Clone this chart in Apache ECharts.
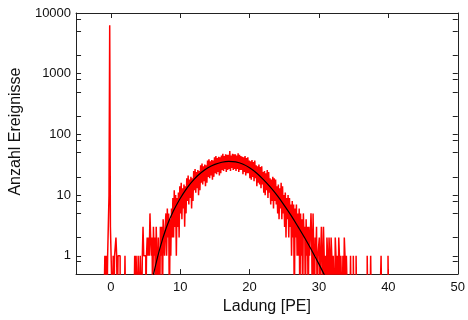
<!DOCTYPE html>
<html><head><meta charset="utf-8">
<script src="https://cdn.jsdelivr.net/npm/echarts@6/dist/echarts.min.js"></script>
<style>html,body{margin:0;padding:0;background:#fff}#c{width:468px;height:320px}</style>
</head><body><div id="c"></div>
<script>
// ---- data ----
const xAxisTitle = 'Ladung [PE]';
const yAxisTitle = 'Anzahl Ereignisse';
const xTickValues = [0, 10, 20, 30, 40, 50];
const yLabelValues = [1, 10, 100, 1000, 10000];
const yTickValues = [0.8, 1, 2, 5, 8, 10, 20, 50, 80, 100, 200, 500, 800, 1000, 2000, 5000, 8000, 10000];

// histogram: bin centres start at -1.0, width 0.1 PE
const binCenterStart = -1.0;
const binWidth = 0.1;
const histCounts = [
  0,0,1,0,1,0,1,1,10,6300,      // -1.0 .. -0.1
  3,1,1,0,1,0,1,1,2,1,          // 0.0 .. 0.9
  0,1,1,1,0,0,0,0,0,0,          // 1
  0,1,0,0,0,0,0,0,0,0,          // 2
  0,0,0,0,0,1,0,1,1,0,          // 3
  1,1,0,1,1,0,1,3,1,1,          // 4
  1,0,1,2,1,2,1,5,2,1,          // 5
  2,0,3,1,2,0,3,1,0,2,          // 6
  2,0,3,1,3,0,4,2,1,3,          // 7
  5,1,6,2,5,0,4,1,6,2,          // 8
  9,2,12,3,10,1,9,3,11,2,       // 9
  14,5,16,4,13,6,15,3,14,5,     // 10
  19,8,21,7,18,9,20,6,19,8,     // 11
  25,12,27,11,24,13,26,10,25,12,// 12
  31,16,33,15,30,17,32,14,31,16,// 13
  37,20,39,19,36,21,38,18,37,20,// 14
  42,23,44,22,41,24,43,21,42,23,// 15
  45,26,48,25,44,27,47,24,46,26,// 16
  46,27,53,25,45,28,48,26,47,27,// 17
  47,25,45,27,49,24,46,26,44,26,// 18
  43,22,42,24,44,21,41,23,42,23,// 19
  37,19,36,18,38,20,35,17,37,19,// 20
  31,14,30,16,32,15,29,13,30,15,// 21
  24,11,25,10,23,12,26,9,24,11, // 22
  19,7,18,8,20,6,19,8,18,7,     // 23
  14,5,15,4,13,6,16,4,14,5,     // 24
  10,3,11,2,9,4,10,2,9,3,       // 25
  7,1,8,2,7,0,6,2,7,1,          // 26
  5,1,6,0,5,1,4,0,5,2,          // 27
  3,0,4,1,3,0,3,1,2,5,          // 28
  2,0,5,1,0,2,1,3,0,1,          // 29
  1,2,0,1,3,1,0,3,1,0,          // 30
  1,0,2,1,0,2,1,0,2,1,          // 31
  0,1,1,0,2,1,0,1,0,2,          // 32
  1,0,1,1,0,1,0,2,1,0,          // 33
  1,1,0,0,0,0,1,0,0,0,          // 34
  1,0,0,0,1,0,0,0,0,0,          // 35
  0,0,0,0,0,0,0,0,0,0,          // 36
  1,0,0,0,0,1,0,0,0,0,          // 37
  0,0,0,0,0,0,0,0,0,0,          // 38
  1,0,0,0,0,0,0,0,0,0,          // 39
  1,0                           // 40.0, 40.1
];

// fitted curve
const fitX = [6, 7, 8, 9, 10, 11, 12, 13, 14, 15, 16, 17, 18, 19, 20, 21, 22, 23, 24, 25, 26, 27, 28, 29, 30, 31];
const fitY = [0.41, 1.23, 2.9, 5.4, 8.8, 13.2, 18.2, 23.3, 28.2, 32.1, 34.8, 35.9, 35.2, 32.5, 28.2, 23.1, 18.0, 13.5, 9.8, 6.8, 4.6, 3.0, 1.93, 1.2, 0.73, 0.43];

// ---- build ----
const EMPTY = 0.1; // empty bins drawn below the visible axis range
const histData = histCounts.map((c, i) => [Math.round((binCenterStart + i * binWidth) * 10) / 10, c > 0 ? c : EMPTY]);
const fitData = fitX.map((x, i) => [x, fitY[i]]);

const FONT = 'Liberation Sans';
const AX = '#222';
const xBase = {
  type: 'value', min: -5, max: 50,
  axisLine: { show: true, onZero: false, lineStyle: { color: AX, width: 1 } },
  axisTick: { show: true, inside: true, length: 5, customValues: xTickValues, lineStyle: { color: AX } },
  splitLine: { show: false }, minorTick: { show: false }
};
const yBase = {
  type: 'log', logBase: 10, min: 0.5, max: 10000,
  axisLine: { show: true, onZero: false, lineStyle: { color: AX, width: 1 } },
  axisTick: { show: true, inside: true, length: 5, customValues: yTickValues, lineStyle: { color: AX } },
  splitLine: { show: false }, minorTick: { show: false }
};

const chart = echarts.init(document.getElementById('c'), null, { renderer: 'canvas' });
chart.setOption({
  animation: false,
  backgroundColor: '#fff',
  grid: { left: 74, right: 8, top: 13, bottom: 44, containLabel: false },
  xAxis: [
    Object.assign({}, xBase, {
      position: 'bottom',
      name: xAxisTitle, nameLocation: 'middle', nameGap: 22,
      nameTextStyle: { fontFamily: FONT, fontSize: 16, color: '#111' },
      axisLabel: { show: true, customValues: xTickValues, margin: 7, fontFamily: FONT, fontSize: 13, color: '#111' }
    }),
    Object.assign({}, xBase, { position: 'top', axisLabel: { show: false } })
  ],
  yAxis: [
    Object.assign({}, yBase, {
      position: 'left',
      name: yAxisTitle, nameLocation: 'middle', nameGap: 33,
      nameTextStyle: { fontFamily: FONT, fontSize: 16, color: '#111', padding: [0, 0, 0, 24] },
      axisLabel: { show: true, customValues: yLabelValues, margin: 5, fontFamily: FONT, fontSize: 13, color: '#111',
        formatter: v => String(Math.round(v)) }
    }),
    Object.assign({}, yBase, { position: 'right', axisLabel: { show: false } })
  ],
  series: [
    {
      type: 'line', name: 'hist', data: histData, step: 'middle',
      xAxisIndex: 0, yAxisIndex: 0, showSymbol: false, symbol: 'none', clip: true,
      lineStyle: { color: '#ff0000', width: 1.5 }, z: 2
    },
    {
      type: 'line', name: 'fit', data: fitData, smooth: 0.4,
      xAxisIndex: 0, yAxisIndex: 0, showSymbol: false, symbol: 'none', clip: true,
      lineStyle: { color: '#000', width: 1.2 }, z: 3
    }
  ]
});
</script>
</body></html>
